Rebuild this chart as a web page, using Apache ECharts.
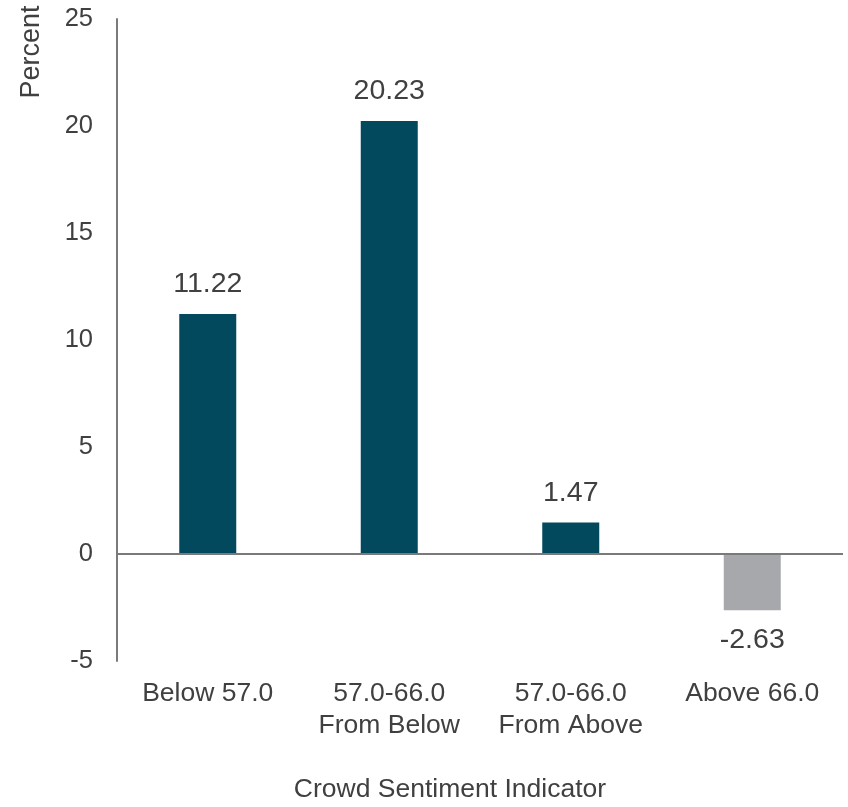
<!DOCTYPE html>
<html>
<head>
<meta charset="utf-8">
<script src="https://cdn.jsdelivr.net/npm/echarts@6/dist/echarts.min.js"></script>
<style>
  html, body { margin: 0; padding: 0; background: #ffffff; }
  #chart { width: 848px; height: 807px; }
</style>
</head>
<body>
<div id="chart"></div>
<script>
// Average return by crowd sentiment regime
const categories = ['Below 57.0', '57.0-66.0\nFrom Below', '57.0-66.0\nFrom Above', 'Above 66.0'];
const returns = [11.22, 20.23, 1.47, -2.63];
const yTicks = { min: -5, max: 25, interval: 5 };

const POS_COLOR = '#02495e';
const NEG_COLOR = '#a7a8ac';
const TEXT = '#404040';
const FONT = '"Liberation Sans", Arial, sans-serif';

const chart = echarts.init(document.getElementById('chart'), null, { renderer: 'canvas' });

chart.setOption({
  animation: false,
  backgroundColor: '#ffffff',
  grid: { left: 117, right: 5, top: 19, bottom: 146, containLabel: false },
  xAxis: {
    type: 'category',
    data: categories,
    position: 'bottom',
    axisLine: { show: false, onZero: false },
    axisTick: { show: false },
    axisLabel: {
      color: TEXT, fontFamily: FONT, fontSize: 26.5, lineHeight: 32, margin: 17,
      interval: 0
    },
    splitLine: { show: false }
  },
  yAxis: {
    type: 'value',
    min: yTicks.min, max: yTicks.max, interval: yTicks.interval,
    axisLine: { show: true, lineStyle: { color: '#7a7a7a', width: 2 } },
    axisTick: { show: false },
    axisLabel: { color: TEXT, fontFamily: FONT, fontSize: 25.5, margin: 24 },
    splitLine: { show: false }
  },
  graphic: [
    {
      type: 'text', x: 32, y: 52, rotation: Math.PI / 2,
      style: {
        text: 'Percent', fill: TEXT, font: '27px ' + FONT,
        textAlign: 'center', textVerticalAlign: 'middle'
      }
    },
    {
      type: 'text', x: 450, y: 790,
      style: {
        text: 'Crowd Sentiment Indicator', fill: TEXT, font: '26.5px ' + FONT,
        textAlign: 'center', textVerticalAlign: 'middle'
      }
    }
  ],
  series: [{
    type: 'bar',
    barWidth: 57,
    data: returns.map(v => ({
      value: v,
      itemStyle: { color: v >= 0 ? POS_COLOR : NEG_COLOR },
      label: { position: v >= 0 ? 'top' : 'bottom' }
    })),
    label: {
      show: true, distance: 15, color: TEXT, fontFamily: FONT, fontSize: 28.5,
      formatter: p => p.value.toFixed(2)
    },
    markLine: {
      silent: true, symbol: 'none',
      label: { show: false },
      lineStyle: { color: '#7a7a7a', width: 2, type: 'solid' },
      data: [{ yAxis: 0 }]
    }
  }]
});
</script>
</body>
</html>
